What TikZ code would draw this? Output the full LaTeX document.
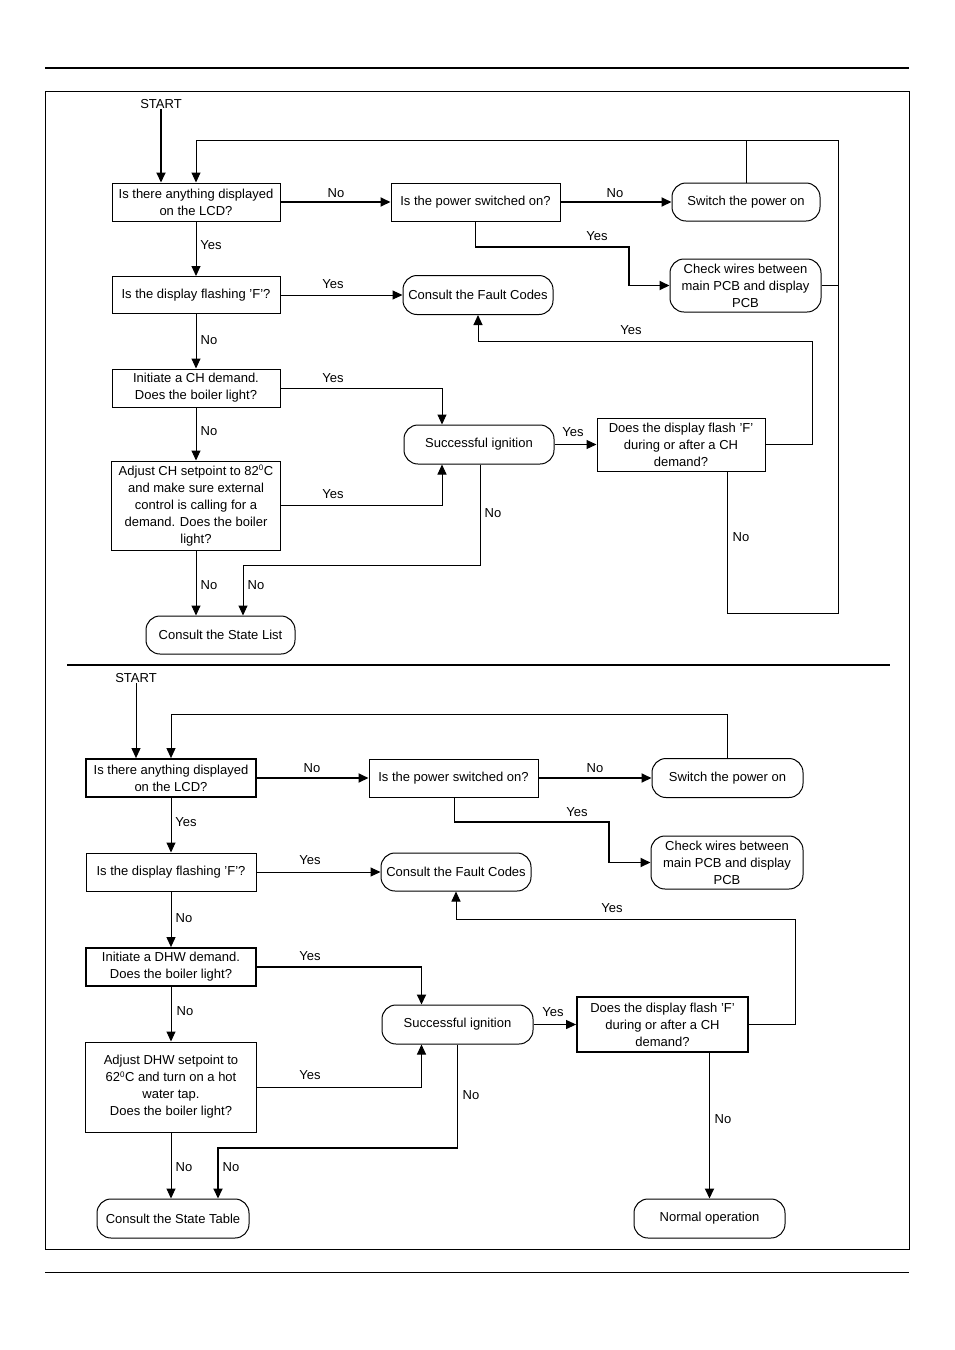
\documentclass[tikz,border=0pt]{standalone}
\usepackage{fontspec}
\setmainfont{Liberation Sans}
\usetikzlibrary{arrows.meta}

\tikzset{
    box/.style={draw, line width=1pt, inner sep=0pt, align=center, font=\fontsize{13}{17}\selectfont},
    term/.style={box, rounded corners=14pt},
    lbl/.style={inner sep=0pt, font=\fontsize{13}{17}\selectfont},
    arr/.style={line width=1pt, -{Triangle[length=10pt,width=9pt]}},
    heavy/.style={line width=1.8pt}
}
\newcommand{\degsup}{\textsuperscript{\fontsize{8}{8}\selectfont 0}}

\begin{document}
\begin{tikzpicture}[x=1pt, y=-1pt]
    \useasboundingbox (0,0) rectangle (954,1350);

    % page frame
    \draw[line width=1.6pt] (45,68) -- (909,68);
    \draw[line width=1pt] (45,1272) -- (909,1272);
    \draw[line width=1pt] (45,91) rectangle (909,1249);
    \draw[line width=1.6pt] (67,665) -- (890,665);

    % ---------------- CH chart ----------------
    \node[lbl] (start1) at (161,104) {START};
    \node[box, minimum width=168, minimum height=38] (q1) at (196,202) {Is there anything displayed\\on the LCD?};
    \node[box, minimum width=169, minimum height=38] (q2) at (475.5,202) {Is the power switched on?};
    \node[term, minimum width=148, minimum height=38] (t1) at (746,202) {Switch the power on};
    \node[term, minimum width=151, minimum height=53] (t2) at (745.5,285.5) {Check wires between\\main PCB and display\\PCB};
    \node[box, minimum width=168, minimum height=37] (q3) at (196,295) {Is the display flashing 'F'?};
    \node[term, minimum width=150, minimum height=39] (t3) at (478,295) {Consult the Fault Codes};
    \node[box, minimum width=168, minimum height=38] (q4) at (196,388) {Initiate a CH demand.\\Does the boiler light?};
    \node[term, minimum width=150, minimum height=39] (t4) at (479,444.5) {Successful ignition};
    \node[box, minimum width=168, minimum height=53] (q5) at (681,444.5) {Does the display flash 'F'\\during or after a CH\\demand?};
    \node[box, minimum width=169, minimum height=89] (q6) at (196,505.5) {Adjust CH setpoint to 82\degsup C\\and make sure external\\control is calling for a\\demand. Does the boiler\\light?};
    \node[term, minimum width=149, minimum height=38] (t5) at (220.5,635) {Consult the State List};

    \coordinate (loopA) at (196,140);
    \coordinate (loopB) at (838,140);
    \coordinate (loopC) at (838,613);
    \coordinate (loopD) at (727,613);
    \coordinate (yesA) at (629,247);
    \coordinate (fbA) at (812,341);
    \coordinate (nsA) at (243,565);

    \draw[arr, heavy] (start1.south) -- (start1.south |- q1.north);
    \draw[arr] ([xshift=46]q5.south) -- (loopD) -- (loopC) -- (loopB) -- (loopA) -- (q1.north);
    \draw[line width=1pt] (t1.north) -- (t1.north |- loopB);
    \draw[heavy] (t2.east) -- (t2.east -| loopB);
    \draw[arr, heavy] (q1) -- (q2);
    \draw[arr, heavy] (q2) -- (t1);
    \draw[arr, heavy] (q2.south) |- (yesA) |- (t2.west);
    \draw[arr] (q1) -- (q3);
    \draw[arr] (q3) -- (t3);
    \draw[arr] (q3) -- (q4);
    \draw[arr] (q4.east) -| ([xshift=-37]t4.north);
    \draw[arr] (q4) -- (q6);
    \draw[arr] (q6.east) -| ([xshift=-37]t4.south);
    \draw[arr] (t4) -- (q5);
    \draw[arr] (q5.east) -| (fbA) -| (t3.south);
    \draw[arr] ([xshift=1]t4.south) |- (nsA) -- (nsA |- t5.north);
    \draw[arr] (q6.south) -- (q6.south |- t5.north);

    \foreach \x/\y/\t [count=\i] in {336/193/No, 615/193/No, 597/236/Yes, 211/245/Yes, 333/284/Yes,
            209/340/No, 333/378/Yes, 209/431/No, 573/432/Yes, 631/330/Yes, 493/513/No,
            333/494/Yes, 209/585/No, 256/585/No, 741/537/No}
        \node[lbl] (ch\i) at (\x,\y) {\t};

    % ---------------- DHW chart ----------------
    \node[lbl] (start2) at (136,678) {START};
    \node[box, heavy, minimum width=170, minimum height=38] (q1b) at (171,778) {Is there anything displayed\\on the LCD?};
    \node[box, minimum width=169, minimum height=38] (q2b) at (453.5,778) {Is the power switched on?};
    \node[term, minimum width=151, minimum height=39] (t1b) at (727.5,778) {Switch the power on};
    \node[term, minimum width=152, minimum height=53] (t2b) at (727,862.5) {Check wires between\\main PCB and display\\PCB};
    \node[box, minimum width=170, minimum height=38] (q3b) at (171,872) {Is the display flashing 'F'?};
    \node[term, minimum width=150, minimum height=38] (t3b) at (456,872) {Consult the Fault Codes};
    \node[box, heavy, minimum width=170, minimum height=38] (q4b) at (171,967) {Initiate a DHW demand.\\Does the boiler light?};
    \node[term, minimum width=151, minimum height=39] (t4b) at (457.5,1024.5) {Successful ignition};
    \node[box, heavy, minimum width=171, minimum height=55] (q5b) at (662.5,1024.5) {Does the display flash 'F'\\during or after a CH\\demand?};
    \node[box, minimum width=171, minimum height=90] (q6b) at (171,1087) {Adjust DHW setpoint to\\62\degsup C and turn on a hot\\water tap.\\Does the boiler light?};
    \node[term, minimum width=152, minimum height=39] (t5b) at (173,1218.5) {Consult the State Table};
    \node[term, minimum width=151, minimum height=39] (t6b) at (709.5,1218.5) {Normal operation};

    \coordinate (loopE) at (171,714);
    \coordinate (yesB) at (609,822);
    \coordinate (fbB) at (795,919);
    \coordinate (nsB) at (218,1148);

    \draw[arr] (start2.south) -- (start2.south |- q1b.north);
    \draw[arr] (t1b.north) |- (loopE) -- (q1b.north);
    \draw[arr, heavy] (q1b) -- (q2b);
    \draw[arr, heavy] (q2b) -- (t1b);
    \draw[arr, heavy] ([xshift=1]q2b.south) |- (yesB) |- (t2b.west);
    \draw[arr] (q1b) -- (q3b);
    \draw[arr] (q3b) -- (t3b);
    \draw[arr] (q3b) -- (q4b);
    \draw[arr, heavy] (q4b.east) -| ([xshift=-36]t4b.north);
    \draw[arr] (q4b) -- (q6b);
    \draw[arr] (q6b.east) -| ([xshift=-36]t4b.south);
    \draw[arr] (t4b) -- (q5b);
    \draw[arr] (q5b.east) -| (fbB) -| (t3b.south);
    \draw[arr, heavy] (t4b.south) |- (nsB) -- (nsB |- t5b.north);
    \draw[arr] (q6b.south) -- (q6b.south |- t5b.north);
    \draw[arr, heavy] (t6b.north |- q5b.south) -- (t6b.north);

    \foreach \x/\y/\t [count=\i] in {312/768/No, 595/768/No, 577/812/Yes, 186/822/Yes, 310/860/Yes,
            184/918/No, 310/956/Yes, 185/1011/No, 553/1012/Yes, 612/908/Yes, 471/1095/No,
            310/1075/Yes, 184/1167/No, 231/1167/No, 723/1119/No}
        \node[lbl] (dhw\i) at (\x,\y) {\t};
\end{tikzpicture}
\end{document}
